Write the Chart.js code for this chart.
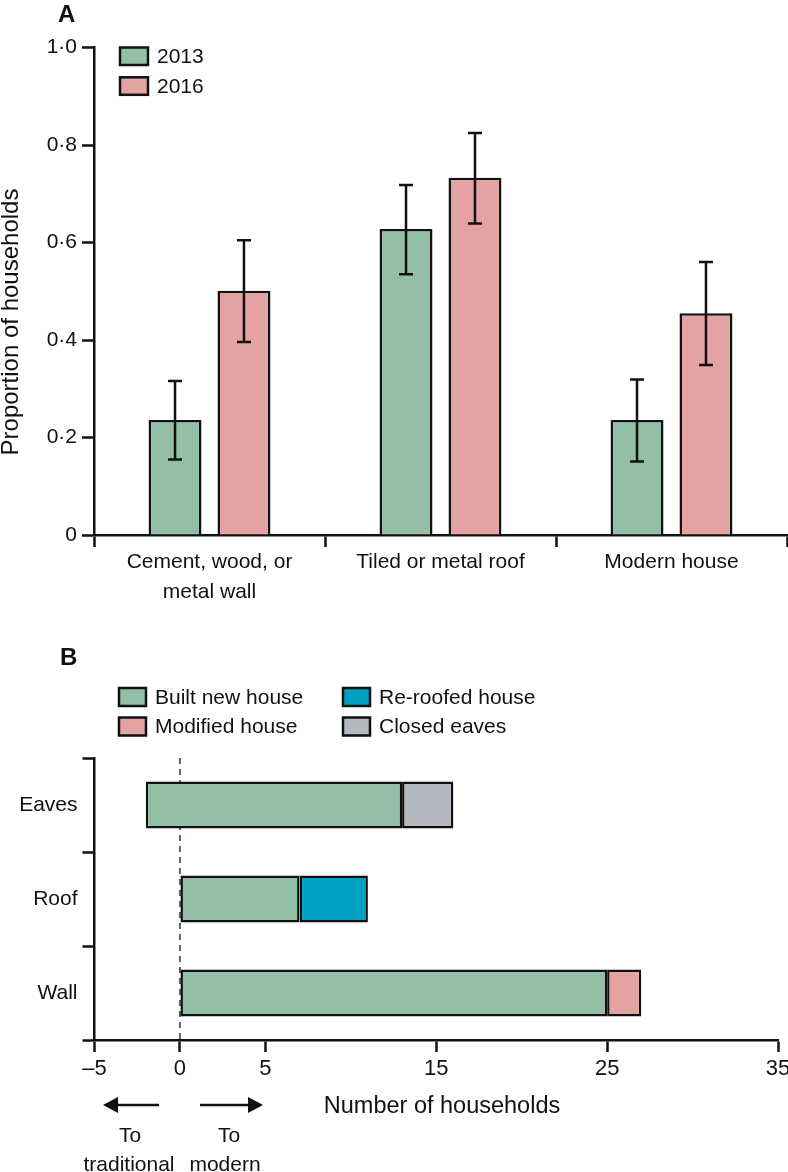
<!DOCTYPE html>
<html>
<head>
<meta charset="utf-8">
<script src="https://cdn.jsdelivr.net/npm/chart.js@4.4.1/dist/chart.umd.min.js"></script>
<style>
  html, body { margin: 0; padding: 0; background: #fff; }
  #wrap { position: relative; width: 788px; height: 1172px; }
  #chartA { position: absolute; left: 0; top: 0; }
  #chartB { position: absolute; left: 0; top: 610px; }
</style>
</head>
<body>
<div id="wrap">
  <canvas id="chartA" width="788" height="610"></canvas>
  <canvas id="chartB" width="788" height="562"></canvas>
</div>
<script>
// ---- Panel A data ----
const categoriesA = [['Cement, wood, or', 'metal wall'], 'Tiled or metal roof', 'Modern house'];
const seriesA = ['2013', '2016'];
const prop2013 = [0.236, 0.628, 0.236];
const prop2016 = [0.501, 0.733, 0.455];
const low2013 = [0.155, 0.535, 0.151];
const high2013 = [0.316, 0.718, 0.319];
const low2016 = [0.396, 0.639, 0.349];
const high2016 = [0.605, 0.825, 0.560];
const yTickValuesA = [0, 0.2, 0.4, 0.6, 0.8, 1.0];
const yTickLabelsA = ['0', '0·2', '0·4', '0·6', '0·8', '1·0'];

// ---- Panel B data (floating ranges, number of households) ----
const categoriesB = ['Eaves', 'Roof', 'Wall'];
const builtNew = [[-2, 13], [0, 7], [0, 25]];
const modified = [null, null, [25, 27]];
const reRoofed = [null, [7, 11], null];
const closedEaves = [[13, 16], null, null];
const xTickValuesB = [-5, 0, 5, 15, 25, 35];
const xTickLabelsB = ['–5', '0', '5', '15', '25', '35'];

const GREEN = '#93bfa6';
const PINK = '#e3a3a2';
const BLUE = '#00a0c3';
const GREY = '#b4b9c0';
const INK = '#111111';
const FONT = "'Liberation Sans', Arial, sans-serif";

Chart.defaults.font.family = FONT;
Chart.defaults.color = INK;

// draws square legend boxes with dataset colours
function boxLegend(items, boxW, boxH) {
  return {
    id: 'boxLegend',
    afterDraw(chart) {
      const ctx = chart.ctx;
      ctx.save();
      ctx.font = '21px ' + FONT;
      ctx.textBaseline = 'middle';
      items.forEach(it => {
        const ds = chart.data.datasets[it.index];
        ctx.fillStyle = ds.backgroundColor;
        ctx.fillRect(it.x, it.y, boxW, boxH);
        ctx.lineWidth = 2.5;
        ctx.strokeStyle = INK;
        ctx.strokeRect(it.x, it.y, boxW, boxH);
        ctx.fillStyle = INK;
        ctx.fillText(ds.label, it.x + boxW + 9, it.y + boxH / 2 + 1);
      });
      ctx.restore();
    }
  };
}

function panelLetter(letter, x, y) {
  return {
    id: 'panelLetter',
    afterDraw(chart) {
      const ctx = chart.ctx;
      ctx.save();
      ctx.font = 'bold 24px ' + FONT;
      ctx.fillStyle = INK;
      ctx.textBaseline = 'alphabetic';
      ctx.fillText(letter, x, y);
      ctx.restore();
    }
  };
}

// Error bars for panel A
const errorBars = {
  id: 'errorBars',
  afterDatasetsDraw(chart) {
    const ctx = chart.ctx;
    const yScale = chart.scales.y;
    ctx.save();
    ctx.strokeStyle = INK;
    ctx.lineWidth = 2.5;
    [[low2013, high2013], [low2016, high2016]].forEach(([lo, hi], di) => {
      chart.getDatasetMeta(di).data.forEach((bar, j) => {
        const yl = yScale.getPixelForValue(lo[j]);
        const yh = yScale.getPixelForValue(hi[j]);
        ctx.beginPath();
        ctx.moveTo(bar.x, yl); ctx.lineTo(bar.x, yh);
        ctx.moveTo(bar.x - 7, yl); ctx.lineTo(bar.x + 7, yl);
        ctx.moveTo(bar.x - 7, yh); ctx.lineTo(bar.x + 7, yh);
        ctx.stroke();
      });
    });
    ctx.restore();
  }
};

const yTitleA = {
  id: 'yTitleA',
  afterDraw(chart) {
    const ctx = chart.ctx;
    ctx.save();
    ctx.translate(11, 322);
    ctx.rotate(-Math.PI / 2);
    ctx.font = '24px ' + FONT;
    ctx.fillStyle = INK;
    ctx.textAlign = 'center';
    ctx.textBaseline = 'middle';
    ctx.fillText('Proportion of households', 0, 0);
    ctx.restore();
  }
};

new Chart(document.getElementById('chartA'), {
  type: 'bar',
  data: {
    labels: categoriesA,
    datasets: [
      { label: seriesA[0], data: prop2013, backgroundColor: GREEN, borderColor: INK, borderWidth: 2.5, borderSkipped: 'bottom' },
      { label: seriesA[1], data: prop2016, backgroundColor: PINK, borderColor: INK, borderWidth: 2.5, borderSkipped: 'bottom' }
    ]
  },
  options: {
    responsive: false,
    animation: false,
    categoryPercentage: 0.597,
    barPercentage: 0.768,
    layout: { padding: { top: 47.7, right: 1, bottom: 0, left: 0 } },
    plugins: { legend: { display: false }, tooltip: { enabled: false } },
    scales: {
      x: {
        offset: true,
        grid: { offset: true, drawOnChartArea: false, tickLength: 12, tickColor: INK, tickWidth: 2.5 },
        border: { color: INK, width: 2.5 },
        ticks: { color: INK, font: { size: 21, lineHeight: 1.43 }, padding: 0, maxRotation: 0, autoSkip: false },
        afterFit: s => { s.height = 75; }
      },
      y: {
        min: 0,
        max: 1,
        afterBuildTicks: s => { s.ticks = yTickValuesA.map(v => ({ value: v })); },
        grid: { drawOnChartArea: false, tickLength: 12, tickColor: INK, tickWidth: 2.5 },
        border: { color: INK, width: 2.5 },
        ticks: { color: INK, font: { size: 21 }, padding: 5, callback: (v, i) => yTickLabelsA[i] },
        afterFit: s => { s.width = 94; }
      }
    }
  },
  plugins: [
    errorBars,
    yTitleA,
    panelLetter('A', 58, 22),
    boxLegend([{ index: 0, x: 120, y: 47.5 }, { index: 1, x: 120, y: 77.3 }], 28, 17.5)
  ]
});

// ---- Panel B ----
const zeroLine = {
  id: 'zeroLine',
  beforeDatasetsDraw(chart) {
    const ctx = chart.ctx;
    const x = chart.scales.x.getPixelForValue(0);
    const area = chart.chartArea;
    ctx.save();
    ctx.strokeStyle = '#4d6875';
    ctx.lineWidth = 2;
    ctx.setLineDash([6, 5]);
    ctx.beginPath();
    ctx.moveTo(x, area.top);
    ctx.lineTo(x, area.bottom);
    ctx.stroke();
    ctx.restore();
  }
};

const annotationsB = {
  id: 'annotationsB',
  afterDraw(chart) {
    const ctx = chart.ctx;
    ctx.save();
    ctx.fillStyle = INK;
    ctx.strokeStyle = INK;
    ctx.font = '23.5px ' + FONT;
    ctx.textAlign = 'center';
    ctx.textBaseline = 'middle';
    ctx.fillText('Number of households', 442, 497);

    // arrows
    const ay = 495;
    ctx.lineWidth = 2.5;
    ctx.beginPath();
    ctx.moveTo(159, ay); ctx.lineTo(112, ay);
    ctx.moveTo(200, ay); ctx.lineTo(253, ay);
    ctx.stroke();
    ctx.beginPath();
    ctx.moveTo(103, ay); ctx.lineTo(118, ay - 8); ctx.lineTo(118, ay + 8); ctx.closePath();
    ctx.moveTo(263, ay); ctx.lineTo(248, ay - 8); ctx.lineTo(248, ay + 8); ctx.closePath();
    ctx.fill();

    ctx.font = '21px ' + FONT;
    ctx.textBaseline = 'alphabetic';
    ctx.fillText('To', 130, 532);
    ctx.fillText('traditional', 129, 561);
    ctx.fillText('To', 229, 532);
    ctx.fillText('modern', 225, 561);
    ctx.restore();
  }
};

const barStyle = { borderColor: INK, borderWidth: 2.5, borderSkipped: false, grouped: false };

new Chart(document.getElementById('chartB'), {
  type: 'bar',
  data: {
    labels: categoriesB,
    datasets: [
      { label: 'Built new house', data: builtNew, backgroundColor: GREEN, ...barStyle },
      { label: 'Modified house', data: modified, backgroundColor: PINK, ...barStyle },
      { label: 'Re-roofed house', data: reRoofed, backgroundColor: BLUE, ...barStyle },
      { label: 'Closed eaves', data: closedEaves, backgroundColor: GREY, ...barStyle }
    ]
  },
  options: {
    indexAxis: 'y',
    responsive: false,
    animation: false,
    categoryPercentage: 1,
    barPercentage: 0.5,
    layout: { padding: { top: 148, right: 10, bottom: 0, left: 0 } },
    plugins: { legend: { display: false }, tooltip: { enabled: false } },
    scales: {
      x: {
        type: 'linear',
        min: -5,
        max: 35,
        afterBuildTicks: s => { s.ticks = xTickValuesB.map(v => ({ value: v })); },
        grid: { drawOnChartArea: false, tickLength: 12, tickColor: INK, tickWidth: 2.5 },
        border: { color: INK, width: 2.5 },
        ticks: { color: INK, font: { size: 22 }, padding: 4, maxRotation: 0, autoSkip: false, callback: (v, i) => xTickLabelsB[i] },
        afterFit: s => { s.height = 132; s.paddingRight = 0; s.paddingLeft = 0; }
      },
      y: {
        type: 'category',
        offset: true,
        grid: { offset: true, drawOnChartArea: false, tickLength: 12, tickColor: INK, tickWidth: 2.5 },
        border: { color: INK, width: 2.5 },
        ticks: { color: INK, font: { size: 21 }, padding: 5 },
        afterFit: s => { s.width = 94.5; }
      }
    }
  },
  plugins: [
    zeroLine,
    annotationsB,
    panelLetter('B', 60, 55),
    boxLegend([
      { index: 0, x: 119, y: 78 },
      { index: 1, x: 119, y: 107.5 },
      { index: 2, x: 343, y: 78 },
      { index: 3, x: 343, y: 107.5 }
    ], 27, 18)
  ]
});
</script>
</body>
</html>
